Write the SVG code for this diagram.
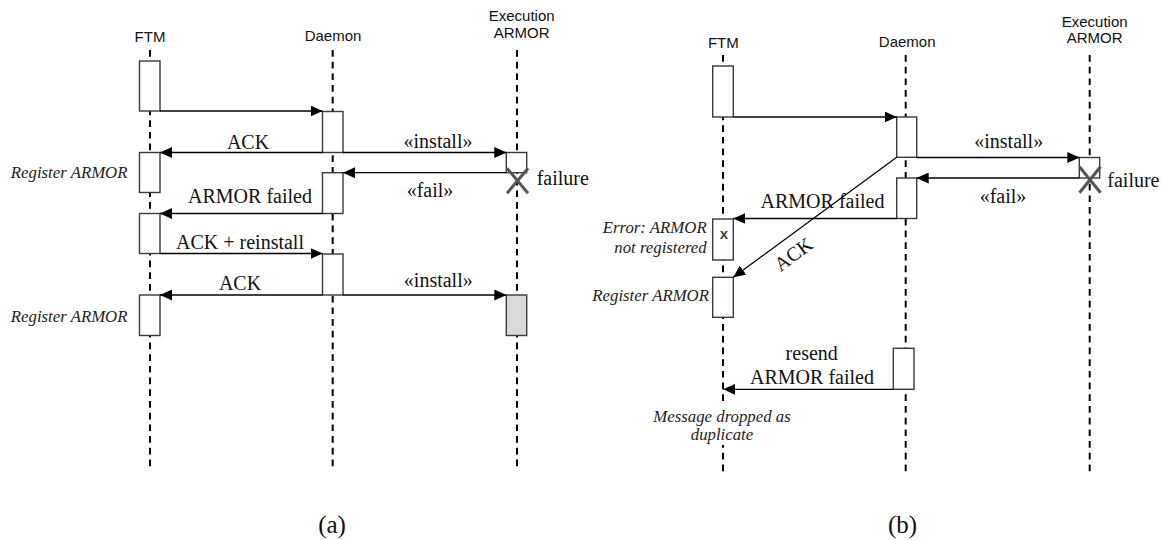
<svg xmlns="http://www.w3.org/2000/svg" width="1161" height="540" viewBox="0 0 1161 540">
<style>
.life{stroke:#000;stroke-width:2;stroke-dasharray:6.7 5;fill:none}
.box{fill:#fff;stroke:#3a3a3a;stroke-width:1.4}
.gbox{fill:#d9d9d9;stroke:#3a3a3a;stroke-width:1.4}
.msg{stroke:#000;stroke-width:1.3;fill:none}
.kill{stroke:#555;stroke-width:3;fill:none}
.hd{font-family:"Liberation Sans",Arial,sans-serif;font-size:15px;fill:#111;text-anchor:middle}
.lb{font-family:"Liberation Serif","Times New Roman",serif;font-size:20px;fill:#111}
.it{font-family:"Liberation Serif","Times New Roman",serif;font-size:16.8px;font-style:italic;fill:#222}
.cap{font-family:"Liberation Serif","Times New Roman",serif;font-size:25px;fill:#111;text-anchor:middle}
.mid{text-anchor:middle}
.end{text-anchor:end}
</style>
<defs>
<marker id="ah" markerUnits="userSpaceOnUse" markerWidth="12" markerHeight="11" refX="12" refY="5.5" orient="auto">
<path d="M0,0 L12,5.5 L0,11 z" fill="#000"/>
</marker>
</defs>

<!-- ===== Diagram (a) ===== -->
<g id="a-ftm">
<text class="hd" x="150" y="41.5">FTM</text>
<line class="life" x1="150" y1="50" x2="150" y2="467.5"/>
<rect class="box" x="139.5" y="61" width="20.5" height="50"/>
<rect class="box" x="139.5" y="152.5" width="20.5" height="40"/>
<rect class="box" x="139.5" y="213.5" width="20.5" height="40"/>
<rect class="box" x="139.5" y="295" width="20.5" height="40.5"/>
<text class="it end" x="127.5" y="178">Register ARMOR</text>
<text class="it end" x="127.5" y="321.5">Register ARMOR</text>
</g>
<g id="a-daemon">
<text class="hd" x="333" y="41">Daemon</text>
<line class="life" x1="332.7" y1="50" x2="332.7" y2="467.5"/>
<rect class="box" x="322.5" y="111.5" width="20.5" height="41"/>
<rect class="box" x="322.5" y="172.7" width="20.5" height="40.8"/>
<rect class="box" x="322.5" y="254" width="20.5" height="41"/>
</g>
<g id="a-exec">
<text class="hd" x="521.7" y="20.7">Execution</text>
<text class="hd" x="521.7" y="37.7">ARMOR</text>
<line class="life" x1="517" y1="50" x2="517" y2="467.5"/>
<rect class="box" x="506.3" y="152.5" width="20.4" height="20.2"/>
<line class="kill" x1="507" y1="168.3" x2="528" y2="193.3"/>
<line class="kill" x1="528" y1="168.3" x2="507" y2="193.3"/>
<text class="lb" x="536.7" y="184.5">failure</text>
<rect class="gbox" x="506.3" y="295" width="20.4" height="40.5"/>
</g>

<!-- ===== Diagram (b) ===== -->
<g id="b-ftm">
<text class="hd" x="723.3" y="47.7">FTM</text>
<line class="life" x1="723" y1="55" x2="723" y2="473"/>
<rect class="box" x="712.7" y="66" width="20.6" height="51"/>
<rect class="box" x="712.7" y="219" width="20.6" height="41"/>
<text x="724" y="239.3" style="font-family:'Liberation Sans',Arial,sans-serif;font-size:15px;font-weight:bold;fill:#444;text-anchor:middle">x</text>
<rect class="box" x="712.7" y="277.3" width="20.6" height="40"/>
<text class="it end" x="706.7" y="233.3">Error: ARMOR</text>
<text class="it end" x="706.7" y="253.3">not registered</text>
<text class="it end" x="709" y="301">Register ARMOR</text>
<rect x="650" y="404" width="144" height="41" fill="#fff"/>
<text class="it mid" x="722" y="421.7">Message dropped as</text>
<text class="it mid" x="722" y="440">duplicate</text>
</g>
<g id="b-daemon">
<text class="hd" x="907.2" y="47.3">Daemon</text>
<line class="life" x1="905.7" y1="55" x2="905.7" y2="473"/>
<rect class="box" x="896.7" y="117" width="20" height="40.3"/>
<rect class="box" x="896.7" y="178" width="20" height="40.5"/>
<rect class="box" x="893.3" y="348.3" width="20.7" height="41"/>
</g>
<g id="b-exec">
<text class="hd" x="1094.7" y="26.7">Execution</text>
<text class="hd" x="1094.7" y="42.7">ARMOR</text>
<line class="life" x1="1089.7" y1="55" x2="1089.7" y2="473"/>
<rect class="box" x="1079.3" y="157.5" width="20.4" height="20.5"/>
<line class="kill" x1="1079.5" y1="166.7" x2="1100.5" y2="192.7"/>
<line class="kill" x1="1100.5" y1="166.7" x2="1079.5" y2="192.7"/>
<text class="lb" x="1107.3" y="187.3">failure</text>
</g>

<!-- ===== Connectors ===== -->
<g id="connectors">
<!-- (a) -->
<line class="msg" x1="160" y1="111" x2="322.5" y2="111" marker-end="url(#ah)"/>
<line class="msg" x1="322.5" y1="152.5" x2="160" y2="152.5" marker-end="url(#ah)"/>
<line class="msg" x1="343" y1="152.5" x2="506.3" y2="152.5" marker-end="url(#ah)"/>
<line class="msg" x1="506.3" y1="172.7" x2="343" y2="172.7" marker-end="url(#ah)"/>
<line class="msg" x1="322.5" y1="213.5" x2="160" y2="213.5" marker-end="url(#ah)"/>
<line class="msg" x1="160" y1="253.5" x2="322.5" y2="253.5" marker-end="url(#ah)"/>
<line class="msg" x1="322.5" y1="295" x2="160" y2="295" marker-end="url(#ah)"/>
<line class="msg" x1="343" y1="295" x2="506.3" y2="295" marker-end="url(#ah)"/>
<!-- (b) -->
<line class="msg" x1="733.3" y1="117" x2="896.7" y2="117" marker-end="url(#ah)"/>
<line class="msg" x1="916.7" y1="157.5" x2="1079.3" y2="157.5" marker-end="url(#ah)"/>
<line class="msg" x1="1079.3" y1="178" x2="916.7" y2="178" marker-end="url(#ah)"/>
<line class="msg" x1="896.7" y1="218.5" x2="733.3" y2="218.5" marker-end="url(#ah)"/>
<line class="msg" x1="896.7" y1="157.3" x2="733.3" y2="277.3" marker-end="url(#ah)"/>
<line class="msg" x1="893.3" y1="389.3" x2="723.3" y2="389.3" marker-end="url(#ah)"/>
</g>

<!-- ===== Message labels ===== -->
<g id="labels">
<text class="lb mid" x="248" y="149">ACK</text>
<text class="lb mid" x="438" y="147.7">«install»</text>
<text class="lb mid" x="430" y="197">«fail»</text>
<text class="lb mid" x="250" y="203">ARMOR failed</text>
<text class="lb mid" x="240" y="249">ACK + reinstall</text>
<text class="lb mid" x="240" y="290">ACK</text>
<text class="lb mid" x="438.3" y="287">«install»</text>
<text class="lb mid" x="1008.7" y="148.3">«install»</text>
<text class="lb mid" x="1003" y="203.3">«fail»</text>
<text class="lb mid" x="822.5" y="208.3">ARMOR failed</text>
<text class="lb mid" transform="translate(793.3,254) rotate(-36.3)" y="7">ACK</text>
<text class="lb mid" x="811.7" y="360">resend</text>
<text class="lb mid" x="812" y="384.3">ARMOR failed</text>
<text class="cap" x="332" y="533">(a)</text>
<text class="cap" x="902.5" y="533">(b)</text>
</g>
</svg>
